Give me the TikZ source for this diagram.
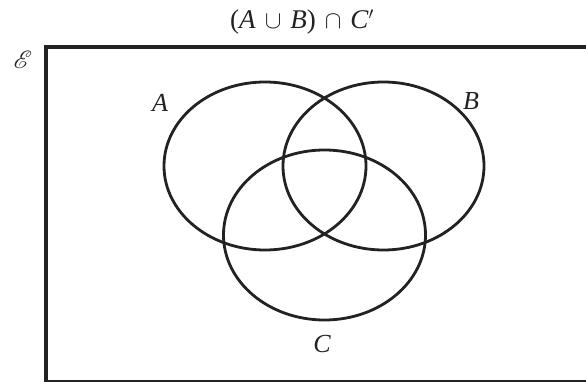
\documentclass[tikz,border=0pt]{standalone}
\usepackage{fontspec}
\setmainfont{Liberation Serif}
\usepackage{mathrsfs}
\usetikzlibrary{shapes.geometric}
\definecolor{ink}{HTML}{222222}
\tikzset{
  setline/.style={draw=ink, line width=2.8pt},
  frame/.style={draw=ink, line width=4pt},
  lbl/.style={text=ink, font=\fontsize{26}{30}\selectfont\itshape, inner sep=0pt},
  ttl/.style={text=ink, font=\fontsize{27}{32}\selectfont, inner sep=0pt},
}
\newcommand{\gapx}{\hspace{9pt}}
\begin{document}
\begin{tikzpicture}[x=1pt,y=-1pt]
\useasboundingbox (0,0) rectangle (586,382);
\clip (0,0) rectangle (586,382);
\fill[white] (0,0) rectangle (586,382);
\draw[frame] (46,47.5) rectangle (600,381.5);
\draw[setline] (265,166) ellipse [x radius=101, y radius=84];
\draw[setline] (383.5,166) ellipse [x radius=100.5, y radius=84];
\draw[setline] (324.5,235) ellipse [x radius=101, y radius=85];
\node[ttl, anchor=base west] (title) at (230,29) {(\textit{A}\gapx$\cup$\gapx\textit{B})\gapx$\cap$\gapx\textit{C}$'$};
\node[lbl, font=\fontsize{30}{34}\selectfont] (univ) at (23,60) {$\mathscr{E}$};
\node[lbl] (la) at (160,103) {A};
\node[lbl] (lb) at (471,101) {B};
\node[lbl] (lc) at (322,344) {C};
\end{tikzpicture}
\end{document}
